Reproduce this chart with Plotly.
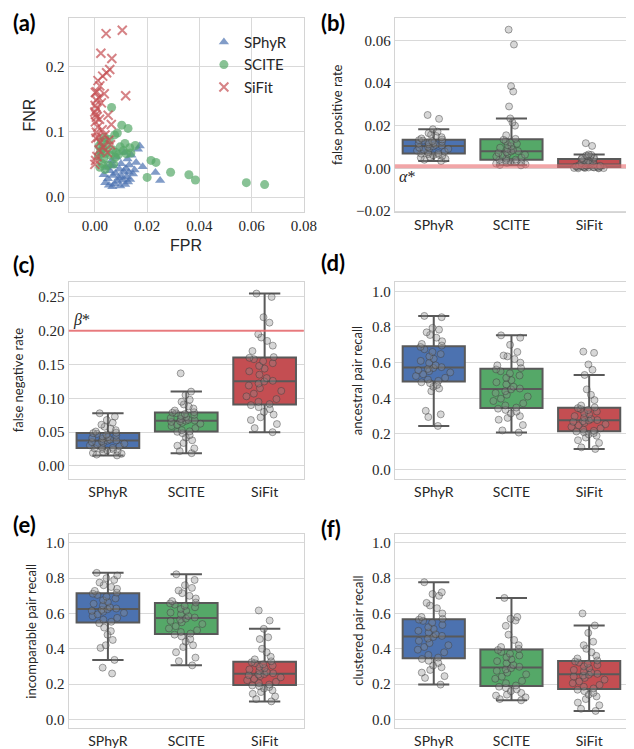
import plotly.graph_objects as go

W, H = 634, 749

methods = ["SPhyR", "SCITE", "SiFit"]
colors = ["#4C72B0", "#55A868", "#C44E52"]

# per-run error rates (one entry per simulated instance)
fpr_sphyr = [0.0034, 0.0040, 0.0045, 0.0050, 0.0054, 0.0058, 0.0061, 0.0064, 0.0067, 0.0069,
             0.0071, 0.0075, 0.0079, 0.0083, 0.0087, 0.0091, 0.0094, 0.0097, 0.0100, 0.0103,
             0.0107, 0.0110, 0.0113, 0.0116, 0.0119, 0.0122, 0.0125, 0.0127, 0.0130, 0.0132,
             0.0135, 0.0140, 0.0146, 0.0152, 0.0158, 0.0165, 0.0172, 0.0183, 0.0232, 0.0250]
fnr_sphyr = [0.0342, 0.0218, 0.0450, 0.0280, 0.0180, 0.0402, 0.0486, 0.0555, 0.0156, 0.0330,
             0.0474, 0.0205, 0.0365, 0.0610, 0.0242, 0.0292, 0.0426, 0.0168, 0.0510, 0.0318,
             0.0262, 0.0390, 0.0680, 0.0192, 0.0438, 0.0305, 0.0580, 0.0230, 0.0378, 0.0492,
             0.0268, 0.0640, 0.0354, 0.0414, 0.0530, 0.0730, 0.0780, 0.0462, 0.0374, 0.0253]

fpr_scite = [0.0014, 0.0016, 0.0019, 0.0022, 0.0025, 0.0028, 0.0031, 0.0034, 0.0037, 0.0039,
             0.0041, 0.0045, 0.0050, 0.0055, 0.0060, 0.0064, 0.0068, 0.0072, 0.0076, 0.0079,
             0.0081, 0.0086, 0.0091, 0.0097, 0.0103, 0.0109, 0.0115, 0.0121, 0.0127, 0.0134,
             0.0138, 0.0155, 0.0200, 0.0215, 0.0234, 0.0290, 0.0360, 0.0385, 0.0580, 0.0650]
fnr_scite = [0.0625, 0.0780, 0.0455, 0.0695, 0.0850, 0.0512, 0.0740, 0.0590, 0.0910, 0.0420,
             0.0668, 0.0795, 0.0485, 0.0880, 0.0640, 0.1370, 0.0725, 0.0505, 0.0950, 0.0610,
             0.0682, 0.0980, 0.0652, 0.0768, 0.1100, 0.0710, 0.0820, 0.0662, 0.1050, 0.0755,
             0.0673, 0.0788, 0.0300, 0.0560, 0.0530, 0.0380, 0.0340, 0.0260, 0.0220, 0.0190]

fpr_sifit = [0.0000, 0.0000, 0.0001, 0.0002, 0.0002, 0.0003, 0.0004, 0.0004, 0.0005, 0.0006,
             0.0006, 0.0007, 0.0008, 0.0009, 0.0011, 0.0012, 0.0013, 0.0015, 0.0016, 0.0018,
             0.0019, 0.0021, 0.0023, 0.0025, 0.0028, 0.0030, 0.0033, 0.0036, 0.0039, 0.0043,
             0.0045, 0.0048, 0.0051, 0.0054, 0.0057, 0.0060, 0.0063, 0.0065, 0.0105, 0.0118]
fnr_sifit = [0.1300, 0.0500, 0.1400, 0.1600, 0.1150, 0.0560, 0.1260, 0.0900, 0.1480, 0.0990,
             0.1220, 0.1610, 0.0620, 0.1350, 0.1070, 0.1780, 0.0915, 0.1520, 0.0720, 0.1190,
             0.1700, 0.0840, 0.2200, 0.1440, 0.1030, 0.1850, 0.0760, 0.1580, 0.0950, 0.2500,
             0.1900, 0.0680, 0.1250, 0.0870, 0.1950, 0.0800, 0.1110, 0.2120, 0.2550, 0.1550]

# recall values
anc_sphyr = [0.245, 0.295, 0.310, 0.330, 0.440, 0.455, 0.465, 0.475, 0.485, 0.490,
             0.498, 0.505, 0.515, 0.525, 0.535, 0.545, 0.552, 0.558, 0.565, 0.570,
             0.575, 0.585, 0.598, 0.610, 0.622, 0.635, 0.648, 0.660, 0.675, 0.688,
             0.696, 0.705, 0.720, 0.740, 0.755, 0.770, 0.785, 0.795, 0.855, 0.862]
anc_scite = [0.208, 0.220, 0.250, 0.280, 0.290, 0.300, 0.315, 0.325, 0.335, 0.342,
             0.348, 0.360, 0.372, 0.385, 0.398, 0.410, 0.420, 0.430, 0.440, 0.450,
             0.455, 0.465, 0.478, 0.490, 0.502, 0.515, 0.528, 0.540, 0.552, 0.562,
             0.570, 0.585, 0.600, 0.620, 0.635, 0.640, 0.660, 0.700, 0.740, 0.753]
anc_sifit = [0.116, 0.125, 0.150, 0.165, 0.180, 0.190, 0.198, 0.205, 0.210, 0.214,
             0.218, 0.225, 0.232, 0.240, 0.248, 0.255, 0.262, 0.268, 0.272, 0.276,
             0.278, 0.284, 0.292, 0.300, 0.310, 0.318, 0.326, 0.334, 0.340, 0.345,
             0.349, 0.360, 0.390, 0.420, 0.450, 0.531, 0.560, 0.590, 0.655, 0.662]

inc_sphyr = [0.260, 0.293, 0.337, 0.405, 0.420, 0.450, 0.480, 0.500, 0.520, 0.545,
             0.553, 0.565, 0.575, 0.585, 0.595, 0.603, 0.610, 0.615, 0.620, 0.624,
             0.628, 0.635, 0.645, 0.655, 0.665, 0.675, 0.685, 0.695, 0.705, 0.712,
             0.718, 0.728, 0.740, 0.750, 0.760, 0.775, 0.790, 0.800, 0.815, 0.830]
inc_scite = [0.306, 0.330, 0.350, 0.380, 0.410, 0.420, 0.440, 0.455, 0.470, 0.480,
             0.486, 0.495, 0.505, 0.515, 0.528, 0.540, 0.550, 0.558, 0.565, 0.571,
             0.577, 0.585, 0.595, 0.605, 0.615, 0.625, 0.635, 0.643, 0.650, 0.657,
             0.662, 0.670, 0.685, 0.700, 0.715, 0.730, 0.745, 0.760, 0.790, 0.822]
inc_sifit = [0.102, 0.115, 0.130, 0.145, 0.155, 0.165, 0.175, 0.183, 0.188, 0.192,
             0.197, 0.205, 0.213, 0.222, 0.230, 0.238, 0.245, 0.250, 0.254, 0.257,
             0.261, 0.268, 0.275, 0.283, 0.290, 0.298, 0.305, 0.312, 0.318, 0.324,
             0.329, 0.340, 0.355, 0.380, 0.400, 0.455, 0.465, 0.513, 0.560, 0.617]

clu_sphyr = [0.197, 0.235, 0.245, 0.265, 0.280, 0.295, 0.305, 0.320, 0.332, 0.342,
             0.350, 0.365, 0.380, 0.395, 0.410, 0.420, 0.432, 0.445, 0.458, 0.467,
             0.473, 0.482, 0.492, 0.502, 0.512, 0.522, 0.535, 0.548, 0.558, 0.565,
             0.570, 0.580, 0.600, 0.630, 0.645, 0.660, 0.700, 0.710, 0.720, 0.777]
clu_scite = [0.108, 0.115, 0.125, 0.135, 0.140, 0.150, 0.160, 0.170, 0.178, 0.185,
             0.192, 0.205, 0.218, 0.230, 0.242, 0.255, 0.265, 0.275, 0.283, 0.290,
             0.298, 0.308, 0.318, 0.330, 0.340, 0.352, 0.362, 0.372, 0.382, 0.393,
             0.400, 0.410, 0.420, 0.450, 0.480, 0.530, 0.560, 0.570, 0.580, 0.688]
clu_sifit = [0.048, 0.060, 0.080, 0.095, 0.115, 0.130, 0.140, 0.150, 0.160, 0.168,
             0.175, 0.185, 0.195, 0.205, 0.215, 0.225, 0.235, 0.243, 0.248, 0.253,
             0.258, 0.265, 0.272, 0.280, 0.290, 0.300, 0.308, 0.315, 0.322, 0.328,
             0.334, 0.345, 0.360, 0.380, 0.400, 0.420, 0.440, 0.490, 0.532, 0.600]

alpha_star = 0.001
beta_star = 0.2

fpr = [fpr_sphyr, fpr_scite, fpr_sifit]
fnr = [fnr_sphyr, fnr_scite, fnr_sifit]
anc = [anc_sphyr, anc_scite, anc_sifit]
inc = [inc_sphyr, inc_scite, inc_sifit]
clu = [clu_sphyr, clu_scite, clu_sifit]


def px(x):
    return x / W


def py(y):
    return 1 - y / H


cols = [(62, 302), (395, 633)]
rows = [(10, 206), (277, 475), (531, 727)]

fig = go.Figure()

# (a) scatter FPR vs FNR
symbols = ["triangle-up", "circle", "x-thin-open"]
for i, m in enumerate(methods):
    mk = dict(symbol=symbols[i], size=9, color=colors[i], opacity=0.7)
    if i == 2:
        mk["line"] = dict(color=colors[i], width=2)
    else:
        mk["line"] = dict(width=0)
    fig.add_trace(go.Scatter(x=fpr[i], y=fnr[i], mode="markers", name=m, marker=mk,
                             xaxis="x", yaxis="y", hoverinfo="skip"))

# box panels
panels = [(2, fpr), (3, fnr), (4, anc), (5, inc), (6, clu)]
for n, data in panels:
    for i, m in enumerate(methods):
        fig.add_trace(go.Box(
            y=data[i], name=m, xaxis="x%d" % n, yaxis="y%d" % n,
            fillcolor=colors[i], line=dict(color="#595959", width=2),
            width=0.8, whiskerwidth=0.5,
            boxpoints="all", pointpos=0, jitter=0.6,
            marker=dict(color="rgba(140,140,140,0.35)", size=7,
                        line=dict(color="rgba(60,60,60,0.45)", width=1)),
            showlegend=False, hoverinfo="skip"))

serif = "Liberation Serif, DejaVu Serif, serif"
tickfont = dict(family=serif, size=15, color="#262626")
catfont = dict(family="Lato", size=14, color="#262626")
frame = dict(showline=True, mirror=True, linecolor="#d4d4d4", linewidth=1.3,
             gridcolor="#d9d9d9", gridwidth=1.3, zeroline=False, ticks="")

layout = dict(
    width=W, height=H, margin=dict(l=0, r=0, t=0, b=0),
    paper_bgcolor="white", plot_bgcolor="white", boxmode="overlay",
    legend=dict(x=px(200), y=py(18), xanchor="left", yanchor="top",
                bgcolor="rgba(0,0,0,0)", font=dict(family="Lato", size=15, color="#262626"),
                itemwidth=30, tracegroupgap=0),
)

# (a) axes
layout["xaxis"] = dict(domain=[px(62), px(302)], anchor="y", range=[-0.01, 0.08],
                       tick0=0, dtick=0.02, tickformat=".2f", tickfont=tickfont,
                       showgrid=True, **frame)
layout["yaxis"] = dict(domain=[py(206), py(10)], anchor="x", range=[-0.023, 0.274],
                       tick0=0, dtick=0.1, tickformat=".1f", tickfont=tickfont,
                       showgrid=True, **frame)

yranges = {2: ([-0.0205, 0.0705], 0.02, ".2f"),
           3: ([-0.0186, 0.2715], 0.05, ".2f"),
           4: ([-0.05, 1.05], 0.2, ".1f"),
           5: ([-0.05, 1.05], 0.2, ".1f"),
           6: ([-0.05, 1.05], 0.2, ".1f")}
pos = {2: (1, 0), 3: (0, 1), 4: (1, 1), 5: (0, 2), 6: (1, 2)}
for n in range(2, 7):
    c, r = pos[n]
    rng, dt, fmt = yranges[n]
    layout["xaxis%d" % n] = dict(domain=[px(cols[c][0]), px(cols[c][1])], anchor="y%d" % n,
                                 range=[-0.5, 2.5], showgrid=False, tickfont=catfont,
                                 type="category", **frame)
    layout["yaxis%d" % n] = dict(domain=[py(rows[r][1]), py(rows[r][0])], anchor="x%d" % n,
                                 range=rng, tick0=0, dtick=dt, tickformat=fmt,
                                 tickfont=tickfont, showgrid=True, **frame)

fig.update_layout(**layout)

# reference error rates
fig.add_shape(type="line", xref="x2 domain", yref="y2", x0=0, x1=1, y0=alpha_star, y1=alpha_star,
              line=dict(color="rgba(232,105,108,0.6)", width=4), layer="above")
fig.add_shape(type="line", xref="x3 domain", yref="y3", x0=0, x1=1, y0=beta_star, y1=beta_star,
              line=dict(color="rgba(232,105,108,0.85)", width=2), layer="above")
fig.add_annotation(text="<i>α</i>*", xref="x2 domain", yref="y2", x=0.01, y=alpha_star,
                   xanchor="left", yanchor="top", showarrow=False,
                   font=dict(family=serif, size=16, color="#262626"))
fig.add_annotation(text="<i>β</i>*", xref="x3 domain", yref="y3", x=0.01, y=beta_star,
                   xanchor="left", yanchor="bottom", showarrow=False,
                   font=dict(family=serif, size=16, color="#262626"))

# axis titles
titles = [("FPR", 182, 240, 0, "Liberation Sans", 16),
          ("FNR", 22, 108, -90, "Liberation Sans", 16),
          ("false positive rate", 336, 108, -90, "Lato", 13),
          ("false negative rate", 11, 376, -90, "Lato", 13),
          ("ancestral pair recall", 357, 376, -90, "Lato", 13),
          ("incomparable pair recall", 24, 629, -90, "Lato", 13),
          ("clustered pair recall", 357, 629, -90, "Lato", 13)]
for t, x, y, ang, fam, sz in titles:
    fig.add_annotation(text=t, x=px(x), y=py(y), xref="paper", yref="paper",
                       xanchor="center", yanchor="middle", textangle=ang, showarrow=False,
                       font=dict(family=fam, size=sz, color="#262626"))

# panel letters
letters = [("(a)", 3, 15), ("(b)", 318, 15), ("(c)", 3, 259), ("(d)", 318, 257),
           ("(e)", 3, 521), ("(f)", 318, 525)]
for t, x, y in letters:
    fig.add_annotation(text="<b>%s</b>" % t, x=px(x), y=py(y), xref="paper", yref="paper",
                       xanchor="left", yanchor="middle", showarrow=False,
                       font=dict(family="Lato", size=22, color="black"))

fig.write_html("out.html")
